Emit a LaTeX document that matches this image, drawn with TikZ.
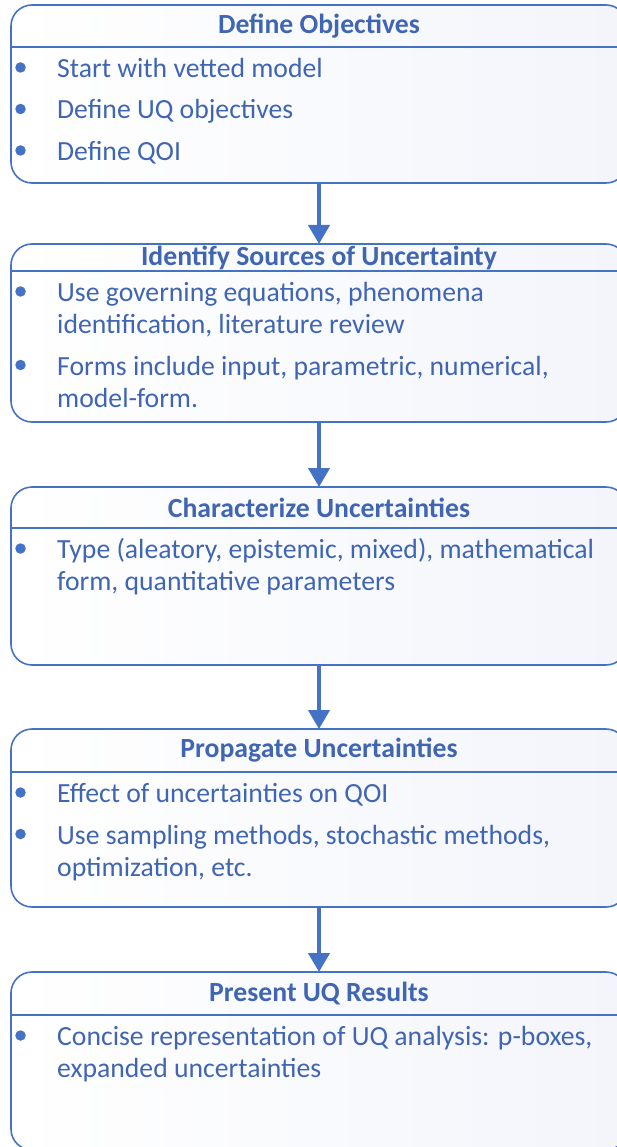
\documentclass[tikz,border=0pt]{standalone}
\usepackage{fontspec}
\setmainfont{Carlito}
\usetikzlibrary{arrows.meta}
\definecolor{ucblue}{HTML}{4472C4}
\definecolor{uctext}{HTML}{3F65B3}
\definecolor{ucfill}{HTML}{F3F5FB}

\begin{document}
\begin{tikzpicture}[x=1pt,y=-1pt,
  stage/.style={draw=ucblue, line width=1.6pt, rounded corners=21pt,
    minimum width=616pt, minimum height=178pt, inner sep=0pt, outer sep=0pt,
    left color=white, right color=ucfill},
  head/.style={font=\bfseries\fontsize{27.7}{32}\selectfont, text=uctext, inner sep=0pt},
  item/.style={font=\fontsize{27.7}{32}\selectfont, text=uctext, anchor=base west, inner sep=0pt},
  dot/.style={circle, fill=ucblue, minimum size=10.5pt, inner sep=0pt},
  rule/.style={draw=ucblue, line width=1.6pt},
  flow/.style={draw=ucblue, line width=4.2pt, -{Triangle[length=19pt,width=21pt]}}]

\clip (0,0) rectangle (617,1147);
\useasboundingbox (0,0) rectangle (617,1147);

% the five stages
\node[stage] (s1) at (319,94) {};
\node[stage] (s2) at (319,333) {};
\node[stage] (s3) at (319,576) {};
\node[stage] (s4) at (319,818) {};
\node[stage] (s5) at (319,1061) {};

% header rules
\draw[rule] (s1.west |- 0,47) -- (s1.east |- 0,47);
\draw[rule] (s2.west |- 0,271) -- (s2.east |- 0,271);
\draw[rule] (s3.west |- 0,528) -- (s3.east |- 0,528);
\draw[rule] (s4.west |- 0,772) -- (s4.east |- 0,772);
\draw[rule] (s5.west |- 0,1015) -- (s5.east |- 0,1015);

% headers
\node[head] (h1) at (319,26) {Define Objectives};
\node[head] (h2) at (319,257.5) {Identify Sources of Uncertainty};
\node[head] (h3) at (319,507.5) {Characterize Uncertainties};
\node[head] (h4) at (319,750.5) {Propagate Uncertainties};
\node[head] (h5) at (319,993.5) {Present UQ Results};

% stage 1 items
\node[dot] (d11) at (20.5,67.5) {};
\node[item] (t11) at (57,77.5) {Start with vetted model};
\node[dot] (d12) at (20.5,109) {};
\node[item] (t12) at (57,119) {Define UQ objectives};
\node[dot] (d13) at (20.5,150.5) {};
\node[item] (t13) at (57,160.5) {Define QOI};

% stage 2 items
\node[dot] (d21) at (20.5,291.5) {};
\node[item] (t21a) at (57,301.5) {Use governing equations, phenomena};
\node[item] (t21b) at (57,333.5) {identification, literature review};
\node[dot] (d22) at (20.5,365) {};
\node[item] (t22a) at (57,375) {Forms include input, parametric, numerical,};
\node[item] (t22b) at (57,407) {model-form.};

% stage 3 items
\node[dot] (d31) at (20.5,548.5) {};
\node[item] (t31a) at (57,558.5) {Type (aleatory, epistemic, mixed), mathematical};
\node[item] (t31b) at (57,590.5) {form, quantitative parameters};

% stage 4 items
\node[dot] (d41) at (20.5,792.5) {};
\node[item] (t41) at (57,802.5) {Effect of uncertainties on QOI};
\node[dot] (d42) at (20.5,834) {};
\node[item] (t42a) at (57,844) {Use sampling methods, stochastic methods,};
\node[item] (t42b) at (57,876) {optimization, etc.};

% stage 5 items
\node[dot] (d51) at (20.5,1035.5) {};
\node[item] (t51a) at (57,1045.5) {Concise representation of UQ analysis: p-boxes,};
\node[item] (t51b) at (57,1077.5) {expanded uncertainties};

% flow between stages
\draw[flow] (s1.south) -- (s2.north);
\draw[flow] (s2.south) -- (s3.north);
\draw[flow] (s3.south) -- (s4.north);
\draw[flow] (s4.south) -- (s5.north);
\end{tikzpicture}
\end{document}
